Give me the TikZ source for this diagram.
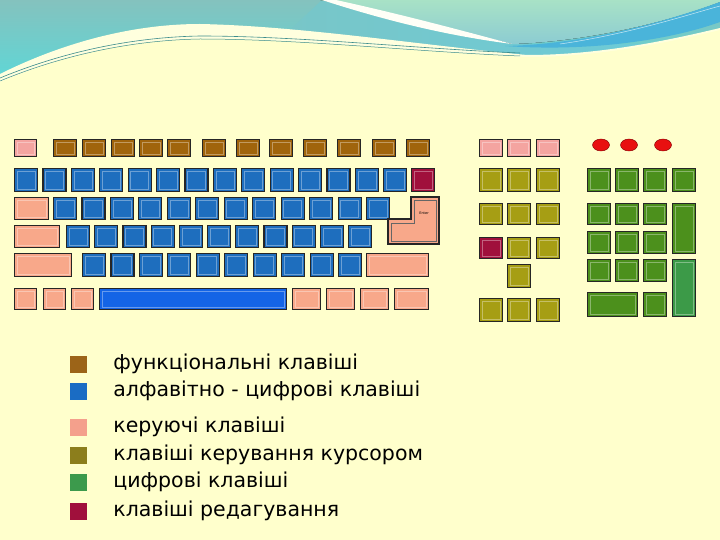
\documentclass[tikz,border=0pt]{standalone}
\usepackage{fontspec}
\setmainfont{DejaVu Sans}
\usetikzlibrary{positioning, shapes.geometric}

\definecolor{paper}{HTML}{FFFFCC}
\definecolor{tealtop}{HTML}{84C2BE}
\definecolor{tealbot}{HTML}{5CD8D8}
\definecolor{tealmid}{HTML}{78C6C8}
\definecolor{minttop}{HTML}{A8E2C6}
\definecolor{mintlow}{HTML}{8CCCD2}
\definecolor{cyanband}{HTML}{6ACCDA}
\definecolor{stripe}{HTML}{4AB4DA}
\definecolor{waveline}{HTML}{3C8C8C}
\definecolor{fbrown}{HTML}{A0640C}
\definecolor{ablue}{HTML}{1E6EBE}
\definecolor{spaceblue}{HTML}{1464E6}
\definecolor{cpink}{HTML}{F8A88A}
\definecolor{escpink}{HTML}{F4A4A0}
\definecolor{nolive}{HTML}{A69E14}
\definecolor{dgreen}{HTML}{4C901C}
\definecolor{enterg}{HTML}{3C9A48}
\definecolor{ered}{HTML}{A0103C}
\definecolor{led}{HTML}{E81010}
\definecolor{lbrown}{HTML}{9C6418}
\definecolor{lblue}{HTML}{1A6CC4}
\definecolor{lpink}{HTML}{F4A08C}
\definecolor{lolive}{HTML}{8C7E1C}
\definecolor{lgreen}{HTML}{3C9A4C}

\begin{document}
\begin{tikzpicture}[x=1pt, y=-1pt,
     node distance = 26pt,
        key/.style = {rectangle, draw=black!85, line width=1.1pt, inner sep=0pt,
                      anchor=north west, minimum width=23pt, minimum height=23pt,
                      path picture={\draw[white, opacity=0.35, line width=0.7pt]
                        ([shift={(2.5pt,-2.5pt)}]path picture bounding box.north west) rectangle
                        ([shift={(-2.5pt,2.5pt)}]path picture bounding box.south east);}},
       fkey/.style = {key, fill=fbrown, minimum height=17pt},
       akey/.style = {key, fill=ablue},
       ckey/.style = {key, fill=cpink},
       nkey/.style = {key, fill=nolive},
       dkey/.style = {key, fill=dgreen},
       ekey/.style = {key, fill=ered},
     ledlamp/.style = {ellipse, draw=red!50!black, fill=led, minimum width=17pt, minimum height=12pt, inner sep=0pt},
        lsq/.style = {rectangle, minimum size=17pt, inner sep=0pt},
      ltext/.style = {inner sep=0pt, text height=15pt, text depth=5pt, font=\fontsize{20.5}{24}\selectfont}
                        ]
\useasboundingbox (0,0) rectangle (720,540);
\fill[paper] (0,0) rectangle (720,540);
% wave at the top
\fill[top color=tealtop, bottom color=tealbot] (0,0) rectangle (720,85);
\shade[left color=tealmid, right color=cyanband] (322,0) .. controls (390,22) and (450,36) .. (512,44)
  -- (720,44) -- (720,70) -- (290,70) -- (290,30) -- cycle;
\fill[top color=minttop, bottom color=mintlow] (320,0) -- (720,0) -- (720,2)
  .. controls (660,25) and (580,42) .. (512,44)
  .. controls (440,26) and (380,10) .. (320,0) -- cycle;
\fill[stripe] (505,46) .. controls (590,44) and (670,20) .. (720,2)
  -- (720,22) .. controls (670,40) and (590,52) .. (505,46) -- cycle;
\draw[white!70!stripe, line width=0.5pt] (560,44) .. controls (630,34) and (690,14) .. (720,6);
\fill[white!85!paper] (322,0) -- (336,0) .. controls (400,14) and (460,30) .. (512,44)
  .. controls (450,36) and (390,22) .. (322,0) -- cycle;
\fill[white!35!paper] (0,74) .. controls (60,44) and (130,24) .. (200,24)
  .. controls (300,26) and (420,45) .. (527,55)
  .. controls (600,55) and (670,40) .. (720,28) -- (720,540) -- (0,540) -- cycle;
\fill[paper] (0,82) .. controls (70,52) and (140,40) .. (200,39)
  .. controls (300,39) and (420,52) .. (527,57)
  .. controls (600,57) and (670,42) .. (720,30) -- (720,540) -- (0,540) -- cycle;
\draw[waveline, line width=0.6pt] (0,78) .. controls (70,49) and (140,37) .. (200,36)
  .. controls (300,36) and (420,49) .. (520,53);
\draw[waveline, line width=0.5pt] (0,81) .. controls (70,52) and (140,40) .. (200,39)
  .. controls (300,39) and (420,52) .. (520,56);

% main block
\node (esc) [key, fill=escpink, minimum width=22pt, minimum height=17pt] at (14,139) {};
\foreach \x [count=\i] in {53,82,111,139,167,202,236,269,303,337,372,406}
  \node (fn\i) [fkey] at (\x,139) {};
\foreach \i in {0,...,13}
  \node (num\i) [akey] at ({14+28.4*\i},168) {};
\node (bksp) [ekey] at (411,168) {};
\node (tab) [ckey, minimum width=34pt, minimum height=22pt] at (14,197) {};
\foreach \i in {0,...,11}
  \node (qw\i) [akey, minimum height=22pt] at ({53+28.45*\i},197) {};
\node (caps) [ckey, minimum width=45pt, minimum height=22pt] at (14,225) {};
\foreach \i in {0,...,10}
  \node (as\i) [akey, minimum height=22pt] at ({66+28.2*\i},225) {};
\node (lshift) [ckey, minimum width=57pt] at (14,253) {};
\foreach \i in {0,...,9}
  \node (zx\i) [akey] at ({82+28.44*\i},253) {};
\node (rshift) [ckey, minimum width=62pt] at (366,253) {};
\foreach \x [count=\i] in {14,43,71}
  \node (lmod\i) [ckey, minimum width=22pt, minimum height=21pt] at (\x,288) {};
\node (space) [key, fill=spaceblue, minimum width=187pt, minimum height=21pt] at (99,288) {};
\foreach \x/\w [count=\i] in {292/28,326/28,360/28,394/34}
  \node (rmod\i) [ckey, minimum width=\w pt, minimum height=21pt] at (\x,288) {};
% enter
\filldraw[fill=cpink, draw=black!85, line width=1.1pt]
  (411,197) -- (439,197) -- (439,244) -- (388,244) -- (388,219) -- (411,219) -- cycle;
\draw[black!60, line width=0.5pt]
  (414,200) -- (436,200) -- (436,241) -- (391,241) -- (391,223) -- (414,223) -- cycle;
\node (entertxt) [font=\fontsize{3.5}{4}\selectfont, inner sep=0pt] at (424,213) {Enter};

% cursor block
\foreach \x [count=\i] in {479,507,536}
  \node (sys\i) [key, fill=escpink, minimum height=17pt] at (\x,139) {};
\foreach \x [count=\i] in {601,629,663}
  \node (lamp\i) [ledlamp] at (\x,145) {};
\foreach \x [count=\i] in {479,507,536} {
  \node (ins\i) [nkey] at (\x,168) {};
  \node (del\i) [nkey, minimum height=21pt] at (\x,203) {};
  \node (bot\i) [nkey] at (\x,298) {};
}
\node (edit) [ekey, minimum height=21pt] at (479,237) {};
\node (pgup) [nkey, minimum height=21pt] at (507,237) {};
\node (pgdn) [nkey, minimum height=21pt] at (536,237) {};
\node (up) [nkey] at (507,264) {};

% numeric keypad
\foreach \x [count=\i] in {587,615,643,672}
  \node (np\i) [dkey] at (\x,168) {};
\foreach \x [count=\i] in {587,615,643} {
  \node (sev\i) [dkey, minimum height=21pt] at (\x,203) {};
  \node (fou\i) [dkey, minimum height=22pt] at (\x,231) {};
  \node (one\i) [dkey, minimum height=22pt] at (\x,259) {};
}
\node (plus) [dkey, minimum height=50pt] at (672,203) {};
\node (npenter) [key, fill=enterg, minimum height=57pt] at (672,259) {};
\node (zero) [dkey, minimum width=50pt, minimum height=24pt] at (587,292) {};
\node (dot) [dkey, minimum height=24pt] at (643,292) {};

% legend
\node (lfun) [lsq, fill=lbrown] at (78.5,364) {};
\node (lalp) [lsq, fill=lblue]  at (78.5,391) {};
\node (lctl) [lsq, fill=lpink]  at (78.5,427) {};
\node (lcur) [lsq, fill=lolive] at (78.5,455) {};
\node (ldig) [lsq, fill=lgreen] at (78.5,482) {};
\node (ledt) [lsq, fill=ered]   at (78.5,511) {};
\node (tfun) [ltext, right=of lfun] {функціональні клавіші};
\node (talp) [ltext, right=of lalp] {алфавітно - цифрові клавіші};
\node (tctl) [ltext, right=of lctl] {керуючі клавіші};
\node (tcur) [ltext, right=of lcur] {клавіші керування курсором};
\node (tdig) [ltext, right=of ldig] {цифрові клавіші};
\node (tedt) [ltext, right=of ledt] {клавіші редагування};
\end{tikzpicture}
\end{document}
